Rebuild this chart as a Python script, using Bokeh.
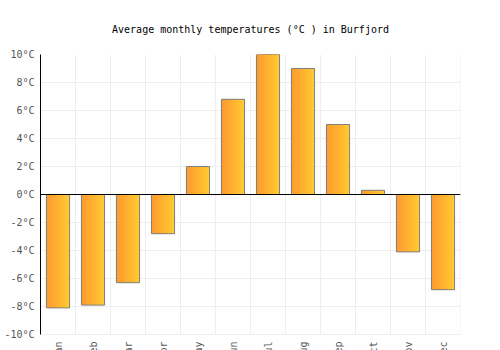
import numpy as np
from math import pi
from bokeh.plotting import figure
from bokeh.models import ColumnDataSource, FixedTicker, PrintfTickFormatter, Span, LabelSet, Range1d
from bokeh.core.properties import value
from bokeh.transform import dodge
from bokeh.embed import file_html
from bokeh.resources import INLINE

months = ["Jan", "Feb", "Mar", "Apr", "May", "Jun", "Jul", "Aug", "Sep", "Oct", "Nov", "Dec"]
temps = [-8.1, -7.9, -6.3, -2.8, 2.0, 6.8, 10.0, 9.0, 5.0, 0.3, -4.1, -6.8]
y_ticks = [-10, -8, -6, -4, -2, 0, 2, 4, 6, 8, 10]
title = "Average monthly temperatures (°C ) in Burfjord"

FONT = "DejaVu Sans Mono"
YMIN, YMAX = -10, 10
PX_PER_UNIT = 14.0
BOTTOM_PAD_PX = 16

src = ColumnDataSource(dict(x=[i + 0.5 for i in range(len(months))], temp=temps, month=months))
bounds = list(range(len(months) + 1))

p = figure(width=500, height=350, output_backend="svg", toolbar_location=None,
           x_range=Range1d(0, len(months)),
           y_range=Range1d(YMIN - BOTTOM_PAD_PX / PX_PER_UNIT, YMAX),
           min_border_left=40, min_border_right=40, min_border_top=54, min_border_bottom=0)
p.outline_line_color = None
p.background_fill_color = "white"

p.title.text = title
p.title.align = "center"
p.title.text_font = FONT
p.title.text_font_size = "10px"
p.title.text_font_style = "normal"
p.title.text_color = "#000000"
p.title.standoff = 40

# grids
p.xgrid.visible = False
p.ygrid.ticker = FixedTicker(ticks=y_ticks)
p.ygrid.grid_line_color = "#eeeeee"
p.segment(x0=bounds, y0=YMIN, x1=bounds, y1=YMAX, line_color="#eeeeee", line_width=1)

p.xaxis.visible = False
ax = p.yaxis[0]
ax.ticker = FixedTicker(ticks=y_ticks)
ax.formatter = PrintfTickFormatter(format="%d°C")
ax.bounds = (YMIN, YMAX)
ax.axis_line_color = "#000000"
ax.major_tick_line_color = None
ax.minor_tick_line_color = None
ax.major_tick_out = 0
ax.major_tick_in = 0
ax.minor_tick_out = 0
ax.major_label_text_font = FONT
ax.major_label_text_font_size = "10px"
ax.major_label_text_color = "#555555"
ax.major_label_standoff = 6

# gradient bars
w = 0.66
N = 20
c0 = np.array([0xff, 0x99, 0x30])
c1 = np.array([0xff, 0xcc, 0x33])
s = w / N
for k in range(N):
    left = -w / 2 + k * s
    right = w / 2
    t = (k + 0.5) / N
    c = (c0 * (1 - t) + c1 * t).astype(int)
    col = "#%02x%02x%02x" % tuple(c)
    p.vbar(x=dodge("x", (left + right) / 2), top="temp", bottom=0, width=right - left,
           source=src, fill_color=col, line_color=None)
p.vbar(x="x", top="temp", bottom=0, width=w, source=src, fill_color=None,
       line_color="#7f7f7f", line_width=1)

p.add_layout(Span(location=0, dimension="width", line_color="#000000", line_width=1, level="overlay"))

labels = LabelSet(x="x", y=YMIN, text="month", source=src, angle=pi / 2, y_offset=-7,
                  text_align="right", text_baseline="middle", text_font=value(FONT),
                  text_font_size=value("10px"), text_color="#555555")
p.add_layout(labels)

open("out.html", "w").write(file_html(p, INLINE))
